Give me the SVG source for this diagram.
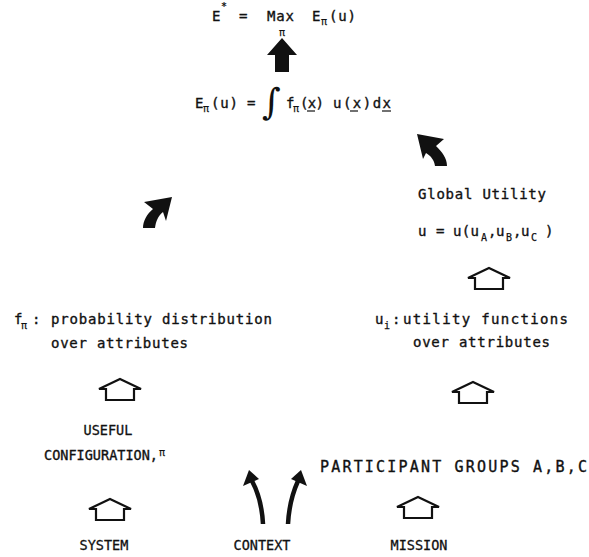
<svg xmlns="http://www.w3.org/2000/svg" width="589" height="557" viewBox="0 0 589 557">
<style>
.t{font-family:"DejaVu Sans Mono","Liberation Mono",monospace;font-size:14px;fill:#111;stroke:#111;stroke-width:0.35;}
.k{font-family:"DejaVu Sans Mono","Liberation Mono",monospace;font-size:13.5px;fill:#111;stroke:#111;stroke-width:0.3;text-anchor:middle;}
.s{font-family:"DejaVu Sans Mono","Liberation Mono",monospace;font-size:10px;fill:#111;stroke:#111;stroke-width:0.25;}
.h{fill:#fff;stroke:#111;stroke-width:2.2;stroke-linejoin:miter;}
.f{fill:#111;stroke:none;}
.c{fill:none;stroke:#111;stroke-width:4.5;stroke-linecap:butt;}
.u{stroke:#111;stroke-width:1.2;}
</style>
<defs>
<path id="hollow" d="M0,0 L21,10 L14,10 L14,21 L-14,21 L-14,10 L-21,10 Z"/>
</defs>
<rect width="589" height="557" fill="#fff"/>

<g id="node-max">
<text class="t" x="212" y="21">E</text>
<text class="s" x="221" y="10">*</text>
<text class="t" x="239" y="21">=</text>
<text class="t" x="267" y="21" textLength="27" lengthAdjust="spacing">Max</text>
<text class="s" x="279" y="36">π</text>
<text class="t" x="312" y="21">E</text>
<text class="s" x="321" y="25">π</text>
<text class="t" x="329" y="21" textLength="27" lengthAdjust="spacing">(u)</text>
</g>

<g id="node-expected">
<text class="t" x="195" y="108">E</text>
<text class="s" x="203" y="112">π</text>
<text class="t" x="211" y="108" textLength="27" lengthAdjust="spacing">(u)</text>
<text class="t" x="247" y="108">=</text>
<text x="262" y="114" style="font-family:'DejaVu Serif',serif;font-size:36px;font-style:italic;fill:#111">∫</text>
<text class="t" x="286" y="108">f</text>
<text class="s" x="293" y="112">π</text>
<text class="t" x="300" y="108" textLength="24" lengthAdjust="spacing">(x)</text>
<line class="u" x1="307" y1="111" x2="315" y2="111"/>
<text class="t" x="333" y="108" textLength="58" lengthAdjust="spacing">u(x)dx</text>
<line class="u" x1="350" y1="111" x2="358" y2="111"/>
<line class="u" x1="382" y1="111" x2="391" y2="111"/>
</g>

<g id="node-global">
<text class="t" x="418" y="199" textLength="128" lengthAdjust="spacing">Global Utility</text>
<text class="t" x="418" y="236">u</text>
<text class="t" x="436" y="236">=</text>
<text class="t" x="453" y="236" textLength="26" lengthAdjust="spacing">u(u</text>
<text class="s" x="481" y="241">A</text>
<text class="t" x="488" y="236">,</text>
<text class="t" x="496" y="236">u</text>
<text class="s" x="506" y="241">B</text>
<text class="t" x="513" y="236">,</text>
<text class="t" x="521" y="236">u</text>
<text class="s" x="531" y="241">C</text>
<text class="t" x="545" y="236">)</text>
</g>

<g id="node-utility">
<text class="t" x="375" y="324">u</text>
<text class="s" x="384" y="329">i</text>
<text class="t" x="392" y="324">:</text>
<text class="t" x="403" y="324" textLength="165" lengthAdjust="spacing">utility functions</text>
<text class="t" x="413" y="347" textLength="137" lengthAdjust="spacing">over attributes</text>
</g>

<g id="node-prob">
<text class="t" x="14" y="324">f</text>
<text class="s" x="21" y="329">π</text>
<text class="t" x="32" y="324">:</text>
<text class="t" x="51" y="324" textLength="221" lengthAdjust="spacing">probability distribution</text>
<text class="t" x="51" y="348" textLength="137" lengthAdjust="spacing">over attributes</text>
</g>

<g id="node-config">
<text class="k" x="108" y="435">USEFUL</text>
<text class="t" x="44" y="460" textLength="114" lengthAdjust="spacing" style="font-size:13.5px">CONFIGURATION,</text>
<text class="s" x="159" y="456">π</text>
</g>

<g id="node-participants">
<text class="t" x="320" y="472" textLength="267" lengthAdjust="spacing" style="font-size:15px">PARTICIPANT GROUPS A,B,C</text>
</g>

<g id="node-system">
<text class="k" x="104" y="550">SYSTEM</text>
</g>
<g id="node-context">
<text class="k" x="262" y="550">CONTEXT</text>
</g>
<g id="node-mission">
<text class="k" x="419" y="550">MISSION</text>
</g>

<g id="connectors">
<polygon class="f" points="282,38 297,55 289,55 289,72 275,72 275,55 267,55"/>
<path class="f" d="M417,134 L444,139 L436,146 C442,152 447,158 447,166 L435,166 C434,160 431,156 426,153 L423,159 Z"/>
<path class="f" d="M172,197 L144,202 L153,209 C147,214 143,221 143,228 L155,228 C156,221 158,216 163,212 L166,221 Z"/>
<use href="#hollow" class="h" x="489" y="268"/>
<use href="#hollow" class="h" x="473" y="382"/>
<use href="#hollow" class="h" x="120" y="379"/>
<use href="#hollow" class="h" x="110" y="499"/>
<use href="#hollow" class="h" x="418" y="497"/>
<path class="c" d="M263,524 C262,505 258,492 252,481"/>
<polygon class="f" points="249,470 243,486 259,479"/>
<path class="c" d="M288,524 C289,505 293,492 298,481"/>
<polygon class="f" points="301,470 291,479 307,486"/>
</g>
</svg>
